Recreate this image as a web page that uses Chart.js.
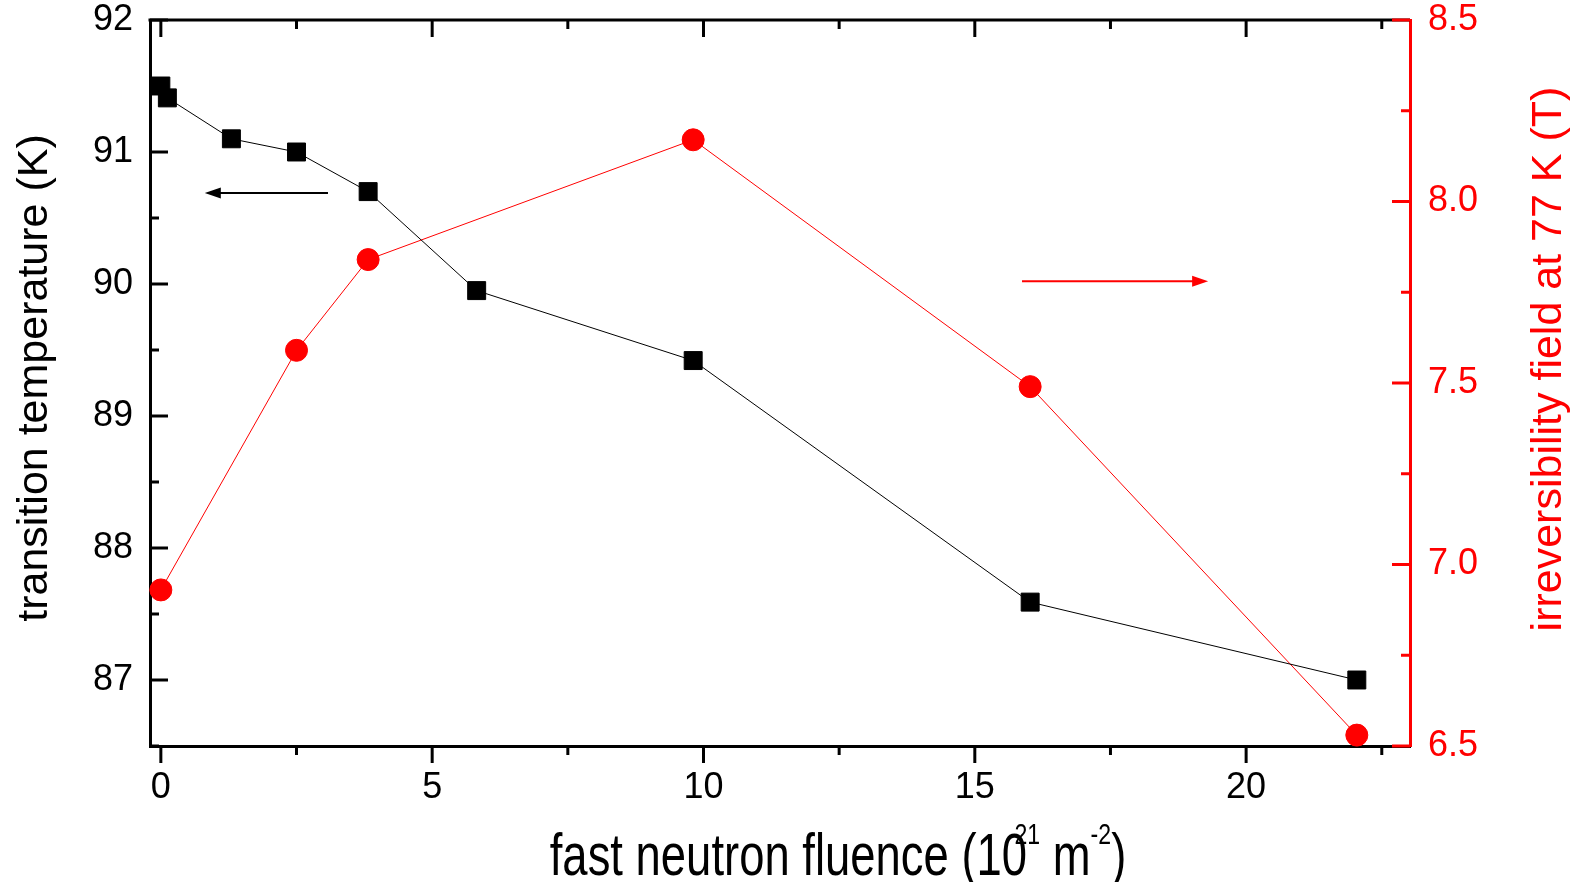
<!DOCTYPE html>
<html>
<head>
<meta charset="utf-8">
<title>Transition temperature and irreversibility field vs fast neutron fluence</title>
<script src="https://cdn.jsdelivr.net/npm/chart.js@4.4.1/dist/chart.umd.min.js"></script>
<style>
	html, body { margin: 0; padding: 0; background: #fff; }
	#wrap { position: relative; width: 1579px; height: 882px; }
</style>
</head>
<body>
<div id="wrap"><canvas id="chart-fluence"></canvas></div>
<script>
// Transition temperature, left axis (K)
const fluenceTc = [0, 0.12, 1.3, 2.5, 3.82, 5.82, 9.81, 16.02, 22.04];
const tcValues = [91.5, 91.41, 91.1, 91.0, 90.7, 89.95, 89.42, 87.59, 87.0];
// Irreversibility field at 77 K, right axis (T)
const fluenceBirr = [0, 2.5, 3.82, 9.81, 16.02, 22.04];
const birrValues = [6.93, 7.59, 7.84, 8.17, 7.49, 6.53];
// Tick positions
const xTicks = [0, 5, 10, 15, 20];
const xMinorTicks = [2.5, 7.5, 12.5, 17.5, 22.5];
const tcTicks = [87, 88, 89, 90, 91, 92];
const tcMinorTicks = [86.5, 87.5, 88.5, 89.5, 90.5, 91.5];
const birrTicks = [6.5, 7.0, 7.5, 8.0, 8.5];
const birrMinorTicks = [6.75, 7.25, 7.75, 8.25];

const RED = '#ff0000';
const FONT = '"Liberation Sans", Arial, sans-serif';

function toTicks(values) {
	return values.map(v => ({value: v}));
}

// Fixed axis sizes, and no extra room asked for the end labels
function fixSize(size) {
	return s => {
		if (s.isHorizontal()) {
			s.height = size;
		} else {
			s.width = size;
		}
		s.paddingTop = s.paddingBottom = s.paddingLeft = s.paddingRight = 0;
	};
}

function line(ctx, x1, y1, x2, y2) {
	ctx.beginPath();
	ctx.moveTo(x1, y1);
	ctx.lineTo(x2, y2);
	ctx.stroke();
}

// Horizontal arrow with a filled head at x2
function arrow(ctx, x1, x2, y, color) {
	const dir = x2 > x1 ? 1 : -1;
	ctx.strokeStyle = color;
	ctx.fillStyle = color;
	ctx.lineWidth = 2;
	line(ctx, x1, y, x2 - dir * 12, y);
	ctx.beginPath();
	ctx.moveTo(x2, y);
	ctx.lineTo(x2 - dir * 16, y - 5.5);
	ctx.lineTo(x2 - dir * 16, y + 5.5);
	ctx.closePath();
	ctx.fill();
}

// x title with the superscripts of the unit
function drawXTitle(ctx, cx, baseline) {
	const big = '59px ' + FONT, small = '30px ' + FONT;
	const sx = 0.77;
	ctx.font = big;
	const head = 'fast neutron fluence (10';
	const wHead = ctx.measureText(head).width;
	const wZero = ctx.measureText('0').width;
	const wM = ctx.measureText(' m').width;
	const wClose = ctx.measureText(')').width;
	ctx.font = small;
	const w21 = ctx.measureText('21').width;
	const wM2 = ctx.measureText('-2').width;
	const start = wHead - 0.5 * wZero;
	const total = start + w21 + wM + wM2 + wClose;
	ctx.save();
	ctx.translate(cx - total * sx / 2, baseline);
	ctx.scale(sx, 1);
	ctx.textAlign = 'left';
	ctx.textBaseline = 'alphabetic';
	ctx.fillStyle = '#000';
	let pos = start;
	ctx.font = big;
	ctx.fillText(head, 0, 0);
	ctx.font = small;
	ctx.fillText('21', pos, -31);
	pos += w21;
	ctx.font = big;
	ctx.fillText(' m', pos, 0);
	pos += wM;
	ctx.font = small;
	ctx.fillText('-2', pos, -31);
	pos += wM2;
	ctx.font = big;
	ctx.fillText(')', pos, 0);
	ctx.restore();
}

function drawYTitle(ctx, text, x, cy, color) {
	ctx.save();
	ctx.translate(x, cy);
	ctx.rotate(-Math.PI / 2);
	ctx.font = '43px ' + FONT;
	ctx.fillStyle = color;
	ctx.textAlign = 'center';
	ctx.textBaseline = 'alphabetic';
	ctx.fillText(text, 0, 0);
	ctx.restore();
}

// Frame, tick marks, arrows and axis titles
const frame = {
	id: 'frame',
	afterDraw(chart) {
		const ctx = chart.ctx;
		const area = chart.chartArea;
		const sx = chart.scales.x, sl = chart.scales.y, sr = chart.scales.y2;
		ctx.save();
		ctx.lineCap = 'butt';
		ctx.lineWidth = 3;
		ctx.strokeStyle = '#000';
		line(ctx, area.left - 1.5, area.top, area.right, area.top);
		// x ticks: outward at the bottom, inward at the top
		xTicks.forEach(v => {
			const p = sx.getPixelForValue(v);
			line(ctx, p, area.bottom, p, area.bottom + 17);
			line(ctx, p, area.top, p, area.top + 17);
		});
		xMinorTicks.forEach(v => {
			const p = sx.getPixelForValue(v);
			line(ctx, p, area.bottom, p, area.bottom + 9);
			line(ctx, p, area.top, p, area.top + 9);
		});
		// left ticks point into the plot
		tcTicks.forEach(v => {
			const p = sl.getPixelForValue(v);
			line(ctx, area.left, p, area.left + 18, p);
		});
		tcMinorTicks.forEach(v => {
			const p = sl.getPixelForValue(v);
			line(ctx, area.left, p, area.left + 9, p);
		});
		// right ticks, red, also inward
		ctx.strokeStyle = RED;
		birrTicks.forEach(v => {
			const p = sr.getPixelForValue(v);
			line(ctx, area.right, p, area.right - 18, p);
		});
		birrMinorTicks.forEach(v => {
			const p = sr.getPixelForValue(v);
			line(ctx, area.right, p, area.right - 9, p);
		});
		// arrows pointing at the axis each curve belongs to
		arrow(ctx, sx.getPixelForValue(3.08), sx.getPixelForValue(0.81), sl.getPixelForValue(90.69), '#000');
		arrow(ctx, sx.getPixelForValue(15.87), sx.getPixelForValue(19.3), sr.getPixelForValue(7.78), RED);
		// axis titles
		drawXTitle(ctx, 838, 875);
		drawYTitle(ctx, 'transition temperature (K)', 47, 378, '#000');
		drawYTitle(ctx, 'irreversibility field at 77 K (T)', 1561, 359, RED);
		ctx.restore();
	}
};

const tickFont = {family: FONT, size: 36, lineHeight: 1};

new Chart(document.getElementById('chart-fluence'), {
	type: 'line',
	data: {
		datasets: [{
			label: 'transition temperature',
			data: fluenceTc.map((f, i) => ({x: f, y: tcValues[i]})),
			yAxisID: 'y',
			borderColor: '#000',
			backgroundColor: '#000',
			borderWidth: 1,
			pointStyle: 'rect',
			pointRadius: 12.7,
			pointBorderWidth: 1,
			tension: 0,
			clip: false
		}, {
			label: 'irreversibility field',
			data: fluenceBirr.map((f, i) => ({x: f, y: birrValues[i]})),
			yAxisID: 'y2',
			borderColor: RED,
			backgroundColor: RED,
			borderWidth: 1,
			pointStyle: 'circle',
			pointRadius: 11,
			pointBorderWidth: 1,
			tension: 0,
			clip: false
		}]
	},
	options: {
		animation: false,
		responsive: true,
		maintainAspectRatio: false,
		layout: {
			autoPadding: false,
			padding: {top: 20, left: 0, right: 0, bottom: 0}
		},
		plugins: {
			legend: {display: false},
			tooltip: {enabled: false}
		},
		scales: {
			x: {
				type: 'linear',
				min: -0.2,
				max: 23.02,
				afterFit: fixSize(136),
				afterBuildTicks: s => { s.ticks = toTicks(xTicks); },
				grid: {display: false, drawTicks: false},
				border: {display: true, color: '#000', width: 3},
				ticks: {font: tickFont, color: '#000', padding: 24, maxRotation: 0}
			},
			y: {
				position: 'left',
				min: 86.5,
				max: 92,
				afterFit: fixSize(150),
				afterBuildTicks: s => { s.ticks = toTicks(tcTicks); },
				grid: {display: false, drawTicks: false},
				border: {display: true, color: '#000', width: 3},
				ticks: {font: tickFont, color: '#000', padding: 17}
			},
			y2: {
				position: 'right',
				min: 6.5,
				max: 8.5,
				afterFit: fixSize(169),
				afterBuildTicks: s => { s.ticks = toTicks(birrTicks); },
				grid: {display: false, drawTicks: false},
				border: {display: true, color: RED, width: 3},
				ticks: {font: tickFont, color: RED, padding: 18, callback: v => Number(v).toFixed(1)}
			}
		}
	},
	plugins: [frame]
});
</script>
</body>
</html>
